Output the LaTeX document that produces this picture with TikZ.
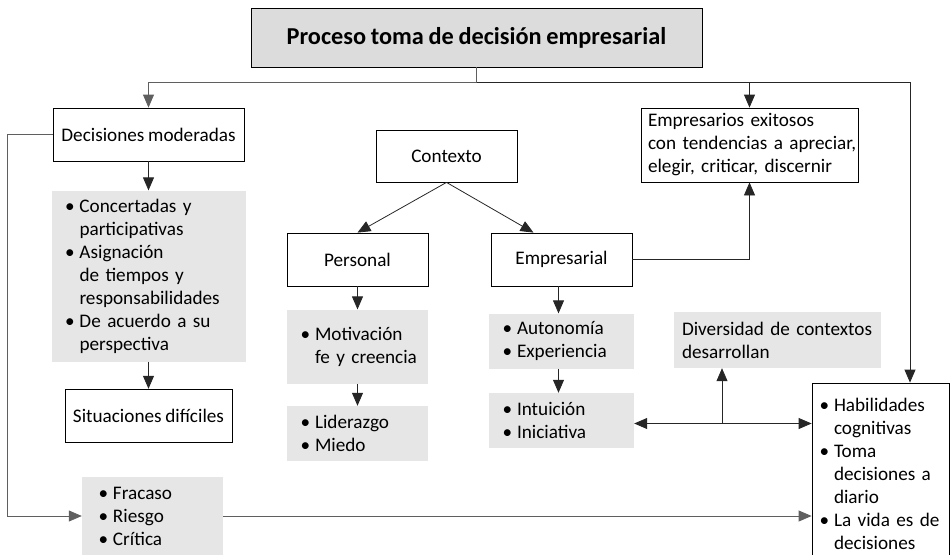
\documentclass[tikz,border=0pt]{standalone}
\usepackage{fontspec}
\setmainfont{Carlito}[WordSpace=0.85]
\usepackage{tikz}
\usetikzlibrary{arrows.meta,positioning,calc}
\definecolor{titulogris}{RGB}{220,220,220}
\definecolor{cajagris}{RGB}{230,230,231}
\definecolor{lineagris}{RGB}{95,95,95}
\def\anchobala{13pt}
\def\bala{\makebox[\anchobala][l]{\hspace*{-1.5pt}\textbullet}}
\def\sigue{\hspace*{\anchobala}}

\begin{document}
\begin{tikzpicture}[x=1pt, y=-1pt,
    font=\fontsize{19.2}{23}\selectfont,
    caja/.style={draw, line width=0.8pt, fill=white, align=center, inner sep=0pt},
    cajagr/.style={fill=cajagris, align=left, inner ysep=0pt},
    linea/.style={line width=0.8pt, draw=black!85},
    flecha/.style={linea, -{Triangle[length=13pt, width=11pt]}},
    dobleflecha/.style={linea, {Triangle[length=13pt, width=11pt]}-{Triangle[length=13pt, width=11pt]}}]

  \useasboundingbox (0,0) rectangle (950,554);

  \node[caja, fill=titulogris, minimum width=451pt, minimum height=59pt,
    font=\fontsize{24.3}{28}\selectfont\bfseries] (titulo) at (476.5,37.5)
    {Proceso toma de decisión empresarial};

  \node[caja, minimum width=191pt, minimum height=53pt] (moderadas) at (148.5,134.5)
    {Decisiones moderadas};
  \node[cajagr, below=29pt of moderadas, text width=164pt, inner xsep=15pt,
    minimum height=171pt] (concertadas)
    {\mbox{\bala Concertadas y}\\ \mbox{\sigue participativas}\\ \mbox{\bala Asignación}\\
     \mbox{\sigue de tiempos y}\\ \mbox{\sigue responsabilidades}\\ \mbox{\bala De acuerdo a su}\\
     \mbox{\sigue perspectiva}};
  \node[caja, below=27pt of concertadas, minimum width=167pt, minimum height=53pt] (dificiles)
    {Situaciones difíciles};

  \node[cajagr, text width=105pt, inner xsep=18pt, minimum height=78pt] (fracaso) at (152.5,516)
    {\mbox{\bala Fracaso}\\ \mbox{\bala Riesgo}\\ \mbox{\bala Crítica}};

  \node[caja, minimum width=141pt, minimum height=52pt] (contexto) at (446.5,156) {Contexto};

  \node[caja, minimum width=141pt, minimum height=53pt] (personal) at (357.5,259.5) {Personal};
  \node[cajagr, below=23pt of personal, text width=111pt, inner xsep=15pt,
    minimum height=74pt] (motivacion)
    {\mbox{\bala Motivación}\\ \mbox{\sigue fe y creencia}};
  \node[cajagr, below=22pt of motivacion, text width=111pt, inner xsep=15pt,
    minimum height=55pt] (liderazgo)
    {\mbox{\bala Liderazgo}\\ \mbox{\bala Miedo}};

  \node[caja, minimum width=141pt, minimum height=53pt] (empresarial) at (561.5,259.5) {Empresarial};
  \node[cajagr, below=27pt of empresarial, text width=115pt, inner xsep=15pt,
    minimum height=55pt] (autonomia)
    {\mbox{\bala Autonomía}\\ \mbox{\bala Experiencia}};
  \node[cajagr, below=24pt of autonomia, text width=115pt, inner xsep=15pt,
    minimum height=55pt] (intuicion)
    {\mbox{\bala Intuición}\\ \mbox{\bala Iniciativa}};

  \node[caja, align=left, text width=203pt, inner xsep=7pt, minimum height=74pt] (exitosos) at (749.5,145)
    {\mbox{Empresarios exitosos}\\ \mbox{con tendencias a apreciar,}\\ \mbox{elegir, criticar, discernir}};

  \node[cajagr, text width=191pt, inner xsep=8pt, minimum height=56pt] (diversidad) at (777.5,340)
    {\mbox{Diversidad de contextos}\\ \mbox{desarrollan}};

  \node[caja, align=left, text width=119pt, inner xsep=9pt, minimum height=182pt] (habilidades) at (880.5,474)
    {\mbox{\bala Habilidades}\\ \mbox{\sigue cognitivas}\\ \mbox{\bala Toma}\\ \mbox{\sigue decisiones a}\\
     \mbox{\sigue diario}\\ \mbox{\bala La vida es de}\\ \mbox{\sigue decisiones}};

  \coordinate (reparto) at ($(titulo.south)+(0,15)$);
  \draw[linea, draw=lineagris] (titulo.south) -- (reparto);
  \draw[flecha, draw=lineagris] (reparto) -| (moderadas.north);
  \draw[flecha] (reparto) -| (exitosos.north);
  \draw[flecha] (reparto) -| ([xshift=29.5pt]habilidades.north);

  \draw[flecha] (moderadas) -- (moderadas |- concertadas.north);
  \draw[flecha] (concertadas) -- (concertadas |- dificiles.north);
  \draw[flecha, draw=lineagris] (moderadas.west) -- ++(-45,0) |- (fracaso.west);
  \draw[flecha, draw=lineagris] (fracaso.east) -- (fracaso.east -| habilidades.west);

  \draw[flecha] (contexto.south) -- (personal.north);
  \draw[flecha] (contexto.south) -- ([xshift=-28pt]empresarial.north);
  \draw[flecha] (personal) -- (personal |- motivacion.north);
  \draw[flecha] (motivacion) -- (motivacion |- liderazgo.north);
  \draw[flecha] ([xshift=-3pt]empresarial.south) -- ([xshift=-3pt]empresarial.south |- autonomia.north);
  \draw[flecha] ([xshift=-3pt]autonomia.south) -- ([xshift=-3pt]autonomia.south |- intuicion.north);
  \draw[flecha] (empresarial.east) -| (exitosos.south);

  \draw[dobleflecha] ([yshift=-3pt]intuicion.east) -- ([yshift=-3pt]intuicion.east -| habilidades.west);
  \coordinate (cruce) at (722,423);
  \draw[flecha] (cruce) -- (cruce |- diversidad.south);

\end{tikzpicture}
\end{document}
